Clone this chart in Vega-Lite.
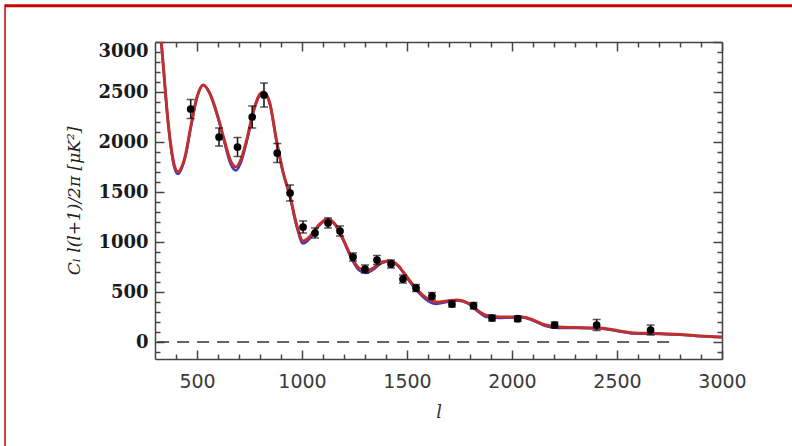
{
  "$schema": "https://vega.github.io/schema/vega-lite/v6.json",
  "width": 567,
  "height": 317,
  "autosize": {"type": "none"},
  "padding": {"left": 155, "top": 42, "right": 70, "bottom": 87},
  "background": "white",
  "config": {"view": {"stroke": null}, "axis": {"grid": false}},
  "datasets": {
    "model": [
      {"l": 300, "red": 3800, "blue": 3800},
      {"l": 320, "red": 3250, "blue": 3250},
      {"l": 340, "red": 2750, "blue": 2750},
      {"l": 360, "red": 2250, "blue": 2240},
      {"l": 380, "red": 1900, "blue": 1880},
      {"l": 395, "red": 1745, "blue": 1725},
      {"l": 410, "red": 1700, "blue": 1680},
      {"l": 425, "red": 1740, "blue": 1725},
      {"l": 445, "red": 1870, "blue": 1855},
      {"l": 470, "red": 2150, "blue": 2140},
      {"l": 500, "red": 2450, "blue": 2445},
      {"l": 530, "red": 2570, "blue": 2570},
      {"l": 560, "red": 2490, "blue": 2490},
      {"l": 600, "red": 2250, "blue": 2240},
      {"l": 630, "red": 2020, "blue": 2000},
      {"l": 660, "red": 1810, "blue": 1780},
      {"l": 685, "red": 1750, "blue": 1715},
      {"l": 710, "red": 1830, "blue": 1800},
      {"l": 740, "red": 2050, "blue": 2030},
      {"l": 770, "red": 2320, "blue": 2310},
      {"l": 800, "red": 2480, "blue": 2475},
      {"l": 815, "red": 2500, "blue": 2500},
      {"l": 845, "red": 2400, "blue": 2400},
      {"l": 880, "red": 2000, "blue": 1990},
      {"l": 910, "red": 1700, "blue": 1690},
      {"l": 943, "red": 1460, "blue": 1450},
      {"l": 975, "red": 1170, "blue": 1150},
      {"l": 1005, "red": 1010, "blue": 985},
      {"l": 1040, "red": 1060, "blue": 1040},
      {"l": 1080, "red": 1170, "blue": 1160},
      {"l": 1124, "red": 1230, "blue": 1225},
      {"l": 1160, "red": 1170, "blue": 1165},
      {"l": 1200, "red": 1010, "blue": 1000},
      {"l": 1240, "red": 830, "blue": 815},
      {"l": 1270, "red": 740, "blue": 720},
      {"l": 1305, "red": 710, "blue": 690},
      {"l": 1340, "red": 740, "blue": 725},
      {"l": 1380, "red": 800, "blue": 790},
      {"l": 1420, "red": 810, "blue": 805},
      {"l": 1460, "red": 760, "blue": 755},
      {"l": 1500, "red": 650, "blue": 640},
      {"l": 1550, "red": 520, "blue": 505},
      {"l": 1600, "red": 430, "blue": 410},
      {"l": 1640, "red": 400, "blue": 380},
      {"l": 1690, "red": 410, "blue": 400},
      {"l": 1740, "red": 420, "blue": 415},
      {"l": 1790, "red": 390, "blue": 385},
      {"l": 1840, "red": 310, "blue": 300},
      {"l": 1880, "red": 265, "blue": 250},
      {"l": 1940, "red": 250, "blue": 240},
      {"l": 2000, "red": 250, "blue": 245},
      {"l": 2050, "red": 250, "blue": 245},
      {"l": 2100, "red": 220, "blue": 215},
      {"l": 2160, "red": 170, "blue": 160},
      {"l": 2220, "red": 150, "blue": 140},
      {"l": 2300, "red": 145, "blue": 140},
      {"l": 2420, "red": 140, "blue": 135},
      {"l": 2500, "red": 115, "blue": 110},
      {"l": 2580, "red": 90, "blue": 85},
      {"l": 2700, "red": 85, "blue": 80},
      {"l": 2800, "red": 75, "blue": 72},
      {"l": 2900, "red": 60, "blue": 58},
      {"l": 3000, "red": 50, "blue": 48}
    ],
    "points": [
      {"l": 470, "c": 2330, "lo": 2235, "hi": 2425},
      {"l": 605, "c": 2050, "lo": 1960, "hi": 2140},
      {"l": 693, "c": 1950, "lo": 1855, "hi": 2045},
      {"l": 763, "c": 2250, "lo": 2140, "hi": 2360},
      {"l": 819, "c": 2470, "lo": 2350, "hi": 2590},
      {"l": 882, "c": 1890, "lo": 1795, "hi": 1985},
      {"l": 943, "c": 1490, "lo": 1410, "hi": 1570},
      {"l": 1005, "c": 1150, "lo": 1090, "hi": 1210},
      {"l": 1062, "c": 1090, "lo": 1040, "hi": 1140},
      {"l": 1124, "c": 1190, "lo": 1140, "hi": 1240},
      {"l": 1181, "c": 1110, "lo": 1060, "hi": 1160},
      {"l": 1243, "c": 850, "lo": 810, "hi": 890},
      {"l": 1300, "c": 730, "lo": 690, "hi": 770},
      {"l": 1357, "c": 820, "lo": 775, "hi": 865},
      {"l": 1424, "c": 780, "lo": 740, "hi": 820},
      {"l": 1481, "c": 630, "lo": 590, "hi": 670},
      {"l": 1543, "c": 540, "lo": 505, "hi": 575},
      {"l": 1619, "c": 460, "lo": 425, "hi": 495},
      {"l": 1714, "c": 380, "lo": 350, "hi": 410},
      {"l": 1817, "c": 363, "lo": 330, "hi": 395},
      {"l": 1905, "c": 240, "lo": 210, "hi": 270},
      {"l": 2027, "c": 233, "lo": 205, "hi": 260},
      {"l": 2203, "c": 170, "lo": 140, "hi": 200},
      {"l": 2403, "c": 170, "lo": 115, "hi": 225},
      {"l": 2660, "c": 120, "lo": 70, "hi": 170}
    ],
    "zero": [{"l1": 310, "l2": 2760, "c": 0}],
    "frame": [
      {"side": "top", "x1": -414, "x2": 3340, "y1": 3362, "y2": 3362},
      {"side": "left", "x1": -414, "x2": -414, "y1": 3375, "y2": -1100}
    ]
  },
  "layer": [
    {
      "data": {"name": "model"},
      "mark": {"type": "line", "color": "#3a3ad0", "strokeWidth": 2.5, "interpolate": "monotone", "clip": true},
      "encoding": {
        "x": {"field": "l", "type": "quantitative", "scale": {"domain": [300, 3000], "nice": false, "zero": false},
          "axis": {"orient": "bottom", "values": [500, 1000, 1500, 2000, 2500, 3000], "format": "d", "tickSize": -9, "tickWidth": 1.5, "tickColor": "#444",
            "domainColor": "#444", "domainWidth": 1.5, "labelFont": "DejaVu Sans", "labelFontSize": 19, "labelColor": "#3a3a3a", "labelPadding": 22,
            "labelFlush": false, "title": "l", "titleFont": "DejaVu Serif", "titleFontStyle": "italic", "titleFontWeight": "normal", "titleFontSize": 18, "titleColor": "#333", "titlePadding": 12}},
        "y": {"field": "blue", "type": "quantitative", "scale": {"domain": [-170, 3000], "nice": false, "zero": false},
          "axis": {"orient": "left", "values": [0, 500, 1000, 1500, 2000, 2500, 3000], "format": "d", "tickSize": -9, "tickWidth": 1.5, "tickColor": "#444",
            "domainColor": "#444", "domainWidth": 1.5, "labelFont": "DejaVu Serif", "labelFontWeight": "bold", "labelFontSize": 18, "labelColor": "#1a1a1a", "labelPadding": 16,
            "labelFlush": true, "title": "Cₗ l(l+1)/2π  [μK²]", "titleFont": "DejaVu Serif", "titleFontStyle": "italic", "titleFontWeight": "normal", "titleFontSize": 17, "titleColor": "#222", "titlePadding": 14}}
      }
    },
    {
      "data": {"name": "model"},
      "mark": {"type": "line", "color": "#c0302e", "strokeWidth": 3, "interpolate": "monotone", "clip": true},
      "encoding": {
        "x": {"field": "l", "type": "quantitative", "scale": {"domain": [300, 3000], "nice": false, "zero": false},
          "axis": {"orient": "bottom", "values": [400, 600, 700, 800, 900, 1100, 1200, 1300, 1400, 1600, 1700, 1800, 1900, 2100, 2200, 2300, 2400, 2600, 2700, 2800, 2900],
            "tickSize": -5, "tickWidth": 1.5, "tickColor": "#444", "domain": false, "labels": false, "title": null}},
        "y": {"field": "red", "type": "quantitative", "scale": {"domain": [-170, 3000], "nice": false, "zero": false},
          "axis": {"orient": "left", "values": [-100, 100, 200, 300, 400, 600, 700, 800, 900, 1100, 1200, 1300, 1400, 1600, 1700, 1800, 1900, 2100, 2200, 2300, 2400, 2600, 2700, 2800, 2900],
            "tickSize": -5, "tickWidth": 1.5, "tickColor": "#444", "domain": false, "labels": false, "title": null}}
      }
    },
    {
      "data": {"name": "zero"},
      "mark": {"type": "rule", "color": "#333", "strokeWidth": 1.5, "strokeDash": [12, 8]},
      "encoding": {
        "x": {"field": "l1", "type": "quantitative", "scale": {"domain": [300, 3000], "nice": false, "zero": false}, "axis": null},
        "x2": {"field": "l2"},
        "y": {"field": "c", "type": "quantitative", "scale": {"domain": [-170, 3000], "nice": false, "zero": false}, "axis": null}
      }
    },
    {
      "data": {"name": "points"},
      "mark": {"type": "rule", "color": "#111", "strokeWidth": 1.5},
      "encoding": {
        "x": {"field": "l", "type": "quantitative", "scale": {"domain": [300, 3000], "nice": false, "zero": false},
          "axis": {"orient": "top", "values": [500, 1000, 1500, 2000, 2500, 3000], "tickSize": -9, "tickWidth": 1.5, "tickColor": "#444",
            "domainColor": "#444", "domainWidth": 1.5, "labels": false, "title": null}},
        "y": {"field": "lo", "type": "quantitative", "scale": {"domain": [-170, 3000], "nice": false, "zero": false},
          "axis": {"orient": "right", "values": [0, 500, 1000, 1500, 2000, 2500, 3000], "tickSize": -9, "tickWidth": 1.5, "tickColor": "#444",
            "domainColor": "#444", "domainWidth": 1.5, "labels": false, "title": null}},
        "y2": {"field": "hi"}
      }
    },
    {
      "data": {"name": "points"},
      "mark": {"type": "tick", "orient": "horizontal", "color": "#111", "size": 8, "thickness": 1.5},
      "encoding": {
        "x": {"field": "l", "type": "quantitative", "scale": {"domain": [300, 3000], "nice": false, "zero": false},
          "axis": {"orient": "top", "values": [400, 600, 700, 800, 900, 1100, 1200, 1300, 1400, 1600, 1700, 1800, 1900, 2100, 2200, 2300, 2400, 2600, 2700, 2800, 2900],
            "tickSize": -5, "tickWidth": 1.5, "tickColor": "#444", "domain": false, "labels": false, "title": null}},
        "y": {"field": "lo", "type": "quantitative", "scale": {"domain": [-170, 3000], "nice": false, "zero": false},
          "axis": {"orient": "right", "values": [-100, 100, 200, 300, 400, 600, 700, 800, 900, 1100, 1200, 1300, 1400, 1600, 1700, 1800, 1900, 2100, 2200, 2300, 2400, 2600, 2700, 2800, 2900],
            "tickSize": -5, "tickWidth": 1.5, "tickColor": "#444", "domain": false, "labels": false, "title": null}}
      }
    },
    {
      "data": {"name": "points"},
      "mark": {"type": "tick", "orient": "horizontal", "color": "#111", "size": 8, "thickness": 1.5},
      "encoding": {
        "x": {"field": "l", "type": "quantitative", "scale": {"domain": [300, 3000], "nice": false, "zero": false}, "axis": null},
        "y": {"field": "hi", "type": "quantitative", "scale": {"domain": [-170, 3000], "nice": false, "zero": false}, "axis": null}
      }
    },
    {
      "data": {"name": "points"},
      "mark": {"type": "point", "filled": true, "shape": "circle", "color": "#000", "size": 60, "opacity": 1},
      "encoding": {
        "x": {"field": "l", "type": "quantitative", "scale": {"domain": [300, 3000], "nice": false, "zero": false}, "axis": null},
        "y": {"field": "c", "type": "quantitative", "scale": {"domain": [-170, 3000], "nice": false, "zero": false}, "axis": null}
      }
    },
    {
      "data": {"name": "frame"},
      "transform": [{"filter": "datum.side === 'top'"}],
      "mark": {"type": "rule", "color": "#cc0000", "strokeWidth": 3, "clip": false},
      "encoding": {
        "x": {"field": "x1", "type": "quantitative", "scale": {"domain": [300, 3000], "nice": false, "zero": false}, "axis": null},
        "x2": {"field": "x2"},
        "y": {"field": "y1", "type": "quantitative", "scale": {"domain": [-170, 3000], "nice": false, "zero": false}, "axis": null},
        "y2": {"field": "y2"}
      }
    },
    {
      "data": {"name": "frame"},
      "transform": [{"filter": "datum.side === 'left'"}],
      "mark": {"type": "rule", "color": "#cc0000", "strokeWidth": 1.5, "clip": false},
      "encoding": {
        "x": {"field": "x1", "type": "quantitative", "scale": {"domain": [300, 3000], "nice": false, "zero": false}, "axis": null},
        "x2": {"field": "x2"},
        "y": {"field": "y1", "type": "quantitative", "scale": {"domain": [-170, 3000], "nice": false, "zero": false}, "axis": null},
        "y2": {"field": "y2"}
      }
    }
  ],
  "resolve": {"axis": {"x": "independent", "y": "independent"}}
}
